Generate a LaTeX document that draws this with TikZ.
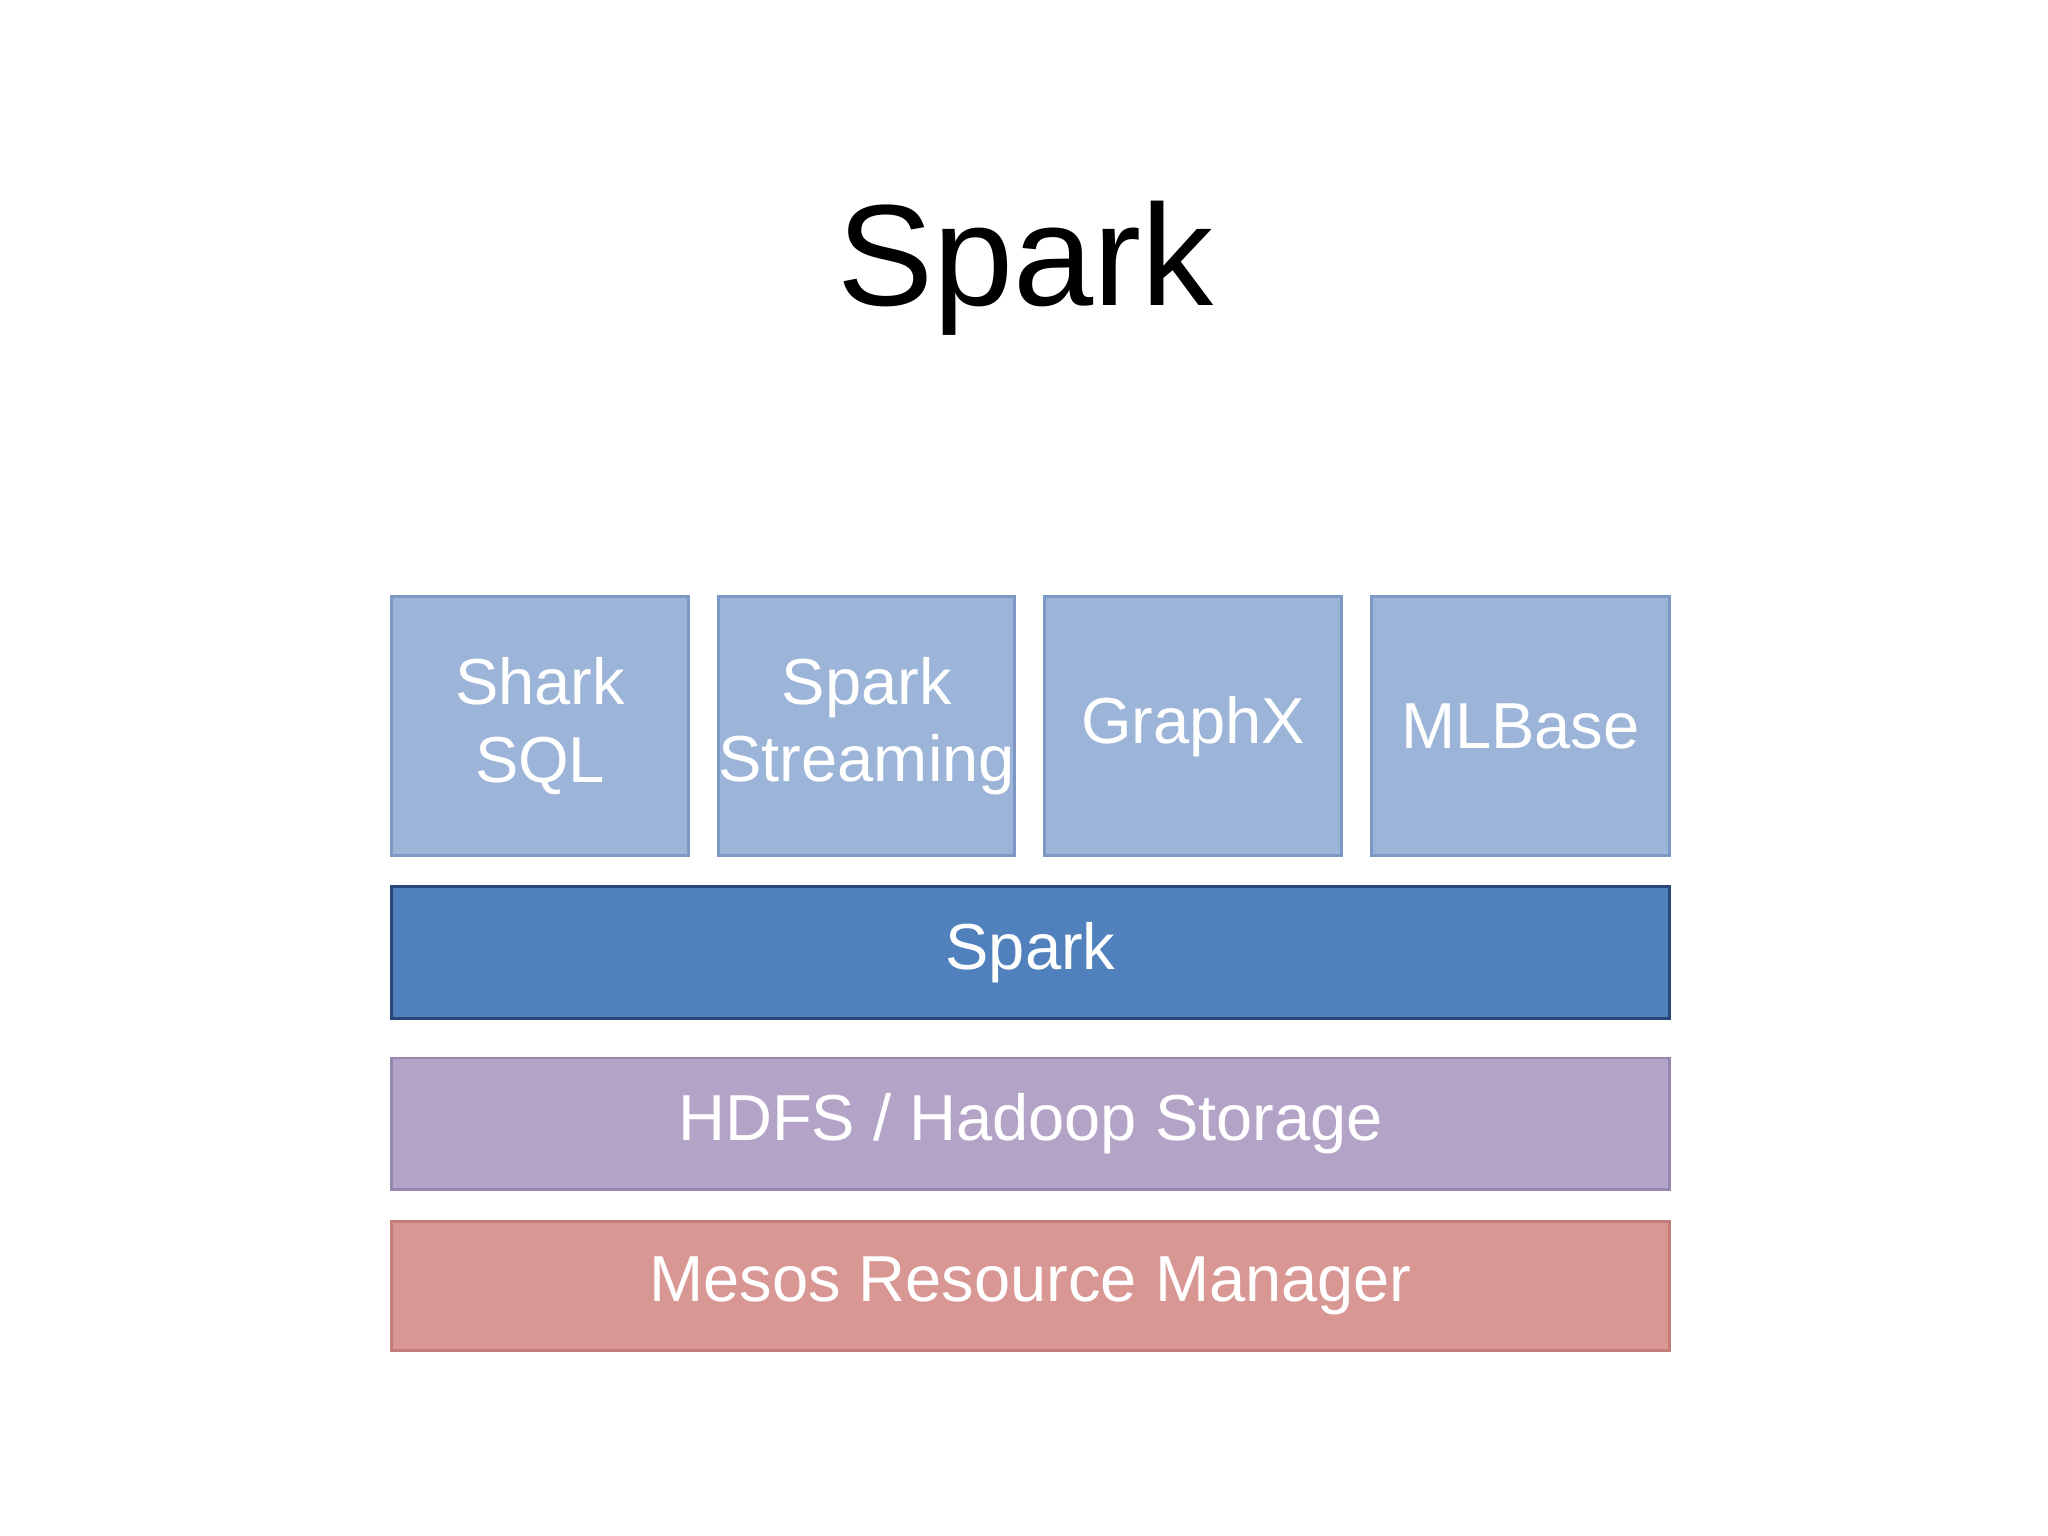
\documentclass[tikz,border=0pt]{standalone}
\usepackage{fontspec}
\setmainfont{Liberation Sans}
\begin{document}
\begin{tikzpicture}[x=0.013061cm,y=-0.013061cm,
  box/.style={draw,line width=0.8pt,text=white,font=\fontsize{18.5}{22}\selectfont,align=center},
  app/.style={box,fill=blue!20!white,fill={rgb,255:red,155;green,180;blue,216},draw={rgb,255:red,125;green,152;blue,196}}]
\useasboundingbox (0,0) rectangle (1568,1176);
\node (title) at (785,205) {\fontsize{41}{48}\selectfont Spark};
\path[app] (300,457) rectangle (527,655) node[midway] (shark) {Shark\\SQL};
\path[app] (550,457) rectangle (777,655) node[midway] (stream) {Spark\\Streaming};
\path[app] (800,457) rectangle (1027,655) node[midway] (graphx) {GraphX};
\path[app] (1050,457) rectangle (1278,655) node[midway] (mlbase) {MLBase};
\path[box,fill={rgb,255:red,80;green,129;blue,189},draw={rgb,255:red,40;green,70;blue,120}] (300,679) rectangle (1278,780) node[midway] (spark) {Spark};
\path[box,fill={rgb,255:red,179;green,163;blue,199},draw={rgb,255:red,150;green,135;blue,175}] (300,810) rectangle (1278,911) node[midway] (hdfs) {HDFS / Hadoop Storage};
\path[box,fill={rgb,255:red,217;green,151;blue,148},draw={rgb,255:red,195;green,125;blue,122}] (300,935) rectangle (1278,1034) node[midway] (mesos) {Mesos Resource Manager};
\end{tikzpicture}
\end{document}
